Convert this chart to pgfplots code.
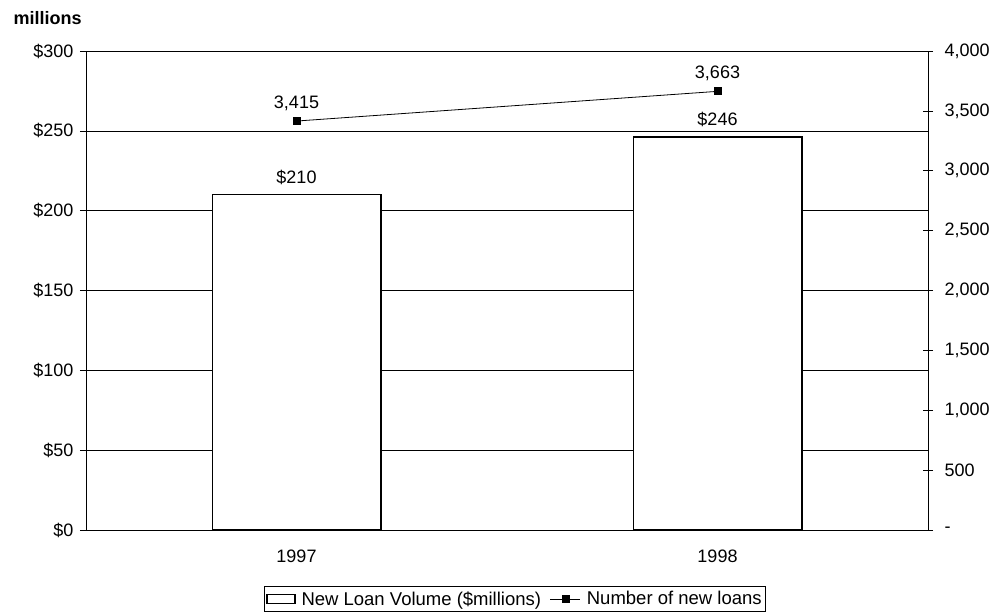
\documentclass[border=0pt]{standalone}
\usepackage{fontspec}
\setmainfont{Liberation Sans}
\usepackage{pgfplots}
\pgfplotsset{compat=1.18}
\pgfplotsset{
  long line legend/.style={
    legend image code/.code={
      \draw[mark repeat=2, mark phase=2, ##1] plot coordinates {(0pt,0pt) (15pt,0pt) (30pt,0pt)};}},
  box legend/.style={
    legend image code/.code={
      \draw[black, fill=white, line width=1.2pt] (0pt,-4.5pt) rectangle (28pt,4.5pt);}},
}
\newcommand{\chartfont}{\fontsize{18}{21}\selectfont}

\begin{document}
\begin{tikzpicture}[x=1pt,y=1pt]
\useasboundingbox (-86,-85) rectangle (915,530);
\pgfplotsset{
  every axis/.append style={
    width=842pt, height=479pt, scale only axis,
    at={(0,0)}, anchor=south west,
    xmin=0, xmax=2,
    font=\chartfont,
    /pgf/number format/assume math mode=true,
    tick style={black, line width=0.6pt},
    axis line style={black, line width=0.9pt},
  }
}
% Loan volume (left scale)
\begin{axis}[
  ymin=0, ymax=300,
  axis x line*=bottom, axis y line*=left,
  ytick={0,50,...,300},
  yticklabels={\$0,\$50,\$100,\$150,\$200,\$250,\$300},
  ytick align=outside, major tick length=6pt,
  yticklabel style={xshift=-3pt},
  ymajorgrids, grid style={black, line width=0.6pt},
  xtick={0.5,1.5}, xticklabels={1997,1998},
  xtick style={draw=none},
  minor xtick={0,1,2},
  minor tick length=6pt, xtick align=outside,
  xticklabel style={yshift=-10pt},
]
\addplot[ybar, bar width=0.4, draw=black, line width=1.6pt, fill=white,
  nodes near coords, point meta=explicit symbolic,
  every node near coord/.append style={black, line width=0pt, yshift=7pt}]
  coordinates {(0.5,210) [\$210] (1.5,246) [\$246]};
\end{axis}
% Number of loans (right scale)
\begin{axis}[
  ymin=0, ymax=4000,
  axis y line*=right, axis x line=none,
  ytick={0,500,...,4000},
  yticklabels={-,500,{1,000},{1,500},{2,000},{2,500},{3,000},{3,500},{4,000}},
  ytick align=center, major tick length=10pt,
  yticklabel style={xshift=8pt},
  legend style={at={(0.5095,-0.144)}, anchor=center, draw=black,
    line width=0.8pt, inner xsep=2pt, inner ysep=2.5pt,
    font=\fontsize{18.5}{21}\selectfont,
    /tikz/every odd column/.append style={column sep=4pt},
    /tikz/every even column/.append style={column sep=7pt}},
  legend columns=2,
  legend cell align=left,
]
\addlegendimage{box legend}
\addlegendentry{New Loan Volume (\$millions)}
\addplot[black, line width=0.8pt, mark=square*, mark size=3.5pt,
  mark options={solid}, long line legend,
  nodes near coords, point meta=explicit symbolic,
  every node near coord/.append style={black, yshift=7pt}]
  coordinates {(0.5,3415) [3,415] (1.5,3663) [3,663]};
\addlegendentry{Number of new loans}
\end{axis}
\node[anchor=west, font=\chartfont\bfseries] at (-76,512) {millions};
\end{tikzpicture}
\end{document}
